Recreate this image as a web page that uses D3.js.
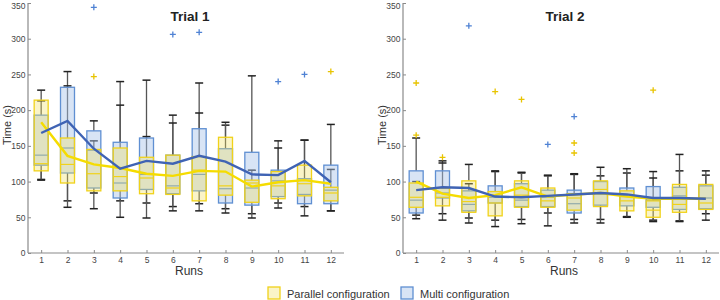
<!DOCTYPE html>
<html>
<head>
<meta charset="utf-8">
<script src="https://cdn.jsdelivr.net/npm/d3@7"></script>
<style>
  body { margin: 0; background: #fff; }
  svg { font-family: "Liberation Sans", Arial, sans-serif; }
</style>
</head>
<body>
<svg id="chart" width="720" height="300"></svg>
<script>
const runs = [1, 2, 3, 4, 5, 6, 7, 8, 9, 10, 11, 12];
const yTicks = [0, 50, 100, 150, 200, 250, 300, 350];

// Trial 1 - Parallel configuration
const t1ParQ1  = [115, 98, 87, 87, 83, 82, 73, 81, 71, 76, 80, 73];
const t1ParMed = [125, 124, 111, 107, 105, 91, 116, 94, 98, 94, 97, 84];
const t1ParQ3  = [214, 161, 145, 147, 134, 137, 135, 162, 102, 114, 123, 92];
const t1ParLo  = [102, 64, 62, 50, 49, 59, 59, 56, 49, 63, 52, 59];
const t1ParHi  = [228, 234, 157, 207, 163, 182, 196, 183, 116, 147, 158, 117];
const t1ParOut = [[3, 247], [12, 254]];
const t1ParMean = [183, 136, 124, 119, 111, 108, 115, 114, 93, 99, 102, 97];

// Trial 1 - Multi configuration
const t1MulQ1  = [123, 112, 91, 77, 89, 83, 87, 70, 67, 79, 69, 69];
const t1MulMed = [137, 147, 144, 98, 110, 94, 110, 90, 91, 101, 82, 88];
const t1MulQ3  = [193, 232, 171, 155, 161, 137, 174, 146, 141, 116, 104, 123];
const t1MulLo  = [103, 73, 84, 73, 70, 65, 69, 62, 55, 70, 65, 59];
const t1MulHi  = [213, 254, 185, 240, 242, 193, 238, 179, 248, 157, 158, 180];
const t1MulOut = [[3, 344], [6, 306], [7, 309], [10, 240], [11, 250]];
const t1MulMean = [168, 185, 146, 118, 129, 125, 136, 128, 110, 109, 129, 99];

// Trial 2 - Parallel configuration
const t2ParQ1  = [64, 66, 57, 52, 64, 64, 60, 65, 59, 50, 57, 61];
const t2ParMed = [78, 78, 72, 70, 81, 73, 77, 89, 73, 60, 68, 70];
const t2ParQ3  = [98, 91, 101, 86, 101, 91, 83, 101, 87, 73, 96, 96];
const t2ParLo  = [48, 46, 42, 37, 41, 38, 42, 42, 50, 44, 44, 46];
const t2ParHi  = [100, 126, 124, 115, 113, 109, 111, 120, 118, 105, 138, 115];
const t2ParOut = [[1, 165], [1, 238], [2, 134], [4, 226], [5, 215], [7, 140], [7, 154], [10, 228]];
const t2ParMean = [100, 83, 77, 81, 92, 79, 82, 84, 79, 76, 76, 76];

// Trial 2 - Multi configuration
const t2MulQ1  = [56, 77, 59, 70, 65, 65, 56, 67, 66, 64, 61, 62];
const t2MulMed = [74, 84, 68, 78, 74, 78, 69, 83, 79, 74, 80, 77];
const t2MulQ3  = [115, 115, 87, 94, 97, 88, 88, 100, 91, 93, 92, 94];
const t2MulLo  = [53, 55, 49, 46, 47, 56, 47, 47, 51, 46, 45, 55];
const t2MulHi  = [161, 129, 97, 114, 112, 108, 110, 108, 112, 114, 115, 109];
const t2MulOut = [[3, 318], [6, 152], [7, 191]];
const t2MulMean = [88, 92, 91, 79, 78, 80, 82, 84, 82, 77, 77, 76];

const colors = {
  par: { fill: "#f0e060", fillOpacity: 0.35, stroke: "#f0d21a", line: "#f5dc00", out: "#e8c400" },
  mul: { fill: "#a8c4e8", fillOpacity: 0.45, stroke: "#5f8fd2", line: "#3f63b4", out: "#4f82d4" }
};

const svg = d3.select("#chart");

function series(q1, med, q3, lo, hi, out, mean) {
  return {
    boxes: runs.map((r, i) => ({ run: r, q1: q1[i], med: med[i], q3: q3[i], lo: lo[i], hi: hi[i] })),
    out: out.map(o => ({ run: o[0], v: o[1] })),
    mean: runs.map((r, i) => ({ run: r, v: mean[i] }))
  };
}

const panels = [
  { title: "Trial 1", left: 28, right: 344,
    par: series(t1ParQ1, t1ParMed, t1ParQ3, t1ParLo, t1ParHi, t1ParOut, t1ParMean),
    mul: series(t1MulQ1, t1MulMed, t1MulQ3, t1MulLo, t1MulHi, t1MulOut, t1MulMean) },
  { title: "Trial 2", left: 403, right: 719,
    par: series(t2ParQ1, t2ParMed, t2ParQ3, t2ParLo, t2ParHi, t2ParOut, t2ParMean),
    mul: series(t2MulQ1, t2MulMed, t2MulQ3, t2MulLo, t2MulHi, t2MulOut, t2MulMean) }
];

const plotTop = 3, plotBottom = 253;

panels.forEach(p => {
  const x = d3.scaleLinear().domain([0.5, 12.5]).range([p.left, p.right]);
  const y = d3.scaleLinear().domain([0, 350]).range([plotBottom, plotTop]);
  const g = svg.append("g");
  const boxW = 14, capW = 8;

  // axes (MATLAB-like inward ticks)
  const yAxis = d3.axisLeft(y).tickValues(yTicks).tickSize(-3).tickPadding(2.5);
  const gy = g.append("g").attr("transform", `translate(${p.left},0)`).call(yAxis);
  const xAxis = d3.axisBottom(x).tickValues(runs).tickSize(-3).tickPadding(4);
  const gx = g.append("g").attr("transform", `translate(0,${plotBottom})`).call(xAxis);
  [gy, gx].forEach(a => {
    a.select(".domain").attr("stroke", "#8a8a8a").attr("stroke-width", 1.2);
    a.selectAll(".tick line").attr("stroke", "#8a8a8a");
    a.selectAll(".tick text").attr("fill", "#444").style("font-size", "8.5px");
  });
  gy.select(".domain").attr("d", `M0,${plotTop}V${plotBottom}`);
  gx.select(".domain").attr("d", `M${p.left},0H${p.right}`);
  // keep the top label inside the window
  gy.selectAll(".tick text").filter(d => d === 350).attr("dy", "0.62em");

  // whiskers
  ["mul", "par"].forEach(k => {
    const wg = g.append("g");
    p[k].boxes.forEach(d => {
      const cx = x(d.run);
      wg.append("line").attr("x1", cx).attr("x2", cx).attr("y1", y(d.q3)).attr("y2", y(d.hi))
        .attr("stroke", "#555").attr("stroke-width", 1.3);
      wg.append("line").attr("x1", cx).attr("x2", cx).attr("y1", y(d.q1)).attr("y2", y(d.lo))
        .attr("stroke", "#555").attr("stroke-width", 1.3);
      [d.hi, d.lo].forEach(v => {
        wg.append("line").attr("x1", cx - capW / 2).attr("x2", cx + capW / 2).attr("y1", y(v)).attr("y2", y(v))
          .attr("stroke", "#222").attr("stroke-width", 1.5);
      });
    });
  });

  // boxes
  ["mul", "par"].forEach(k => {
    const c = colors[k];
    const bg = g.append("g");
    bg.selectAll("rect").data(p[k].boxes).join("rect")
      .attr("x", d => x(d.run) - boxW / 2)
      .attr("width", boxW)
      .attr("y", d => y(d.q3))
      .attr("height", d => y(d.q1) - y(d.q3))
      .attr("fill", c.fill).attr("fill-opacity", c.fillOpacity)
      .attr("stroke", c.stroke).attr("stroke-width", 1.3);
    bg.selectAll("line.med").data(p[k].boxes).join("line").attr("class", "med")
      .attr("x1", d => x(d.run) - boxW / 2).attr("x2", d => x(d.run) + boxW / 2)
      .attr("y1", d => y(d.med)).attr("y2", d => y(d.med))
      .attr("stroke", c.stroke).attr("stroke-width", 1.2);
  });

  // mean lines
  ["par", "mul"].forEach(k => {
    const line = d3.line().x(d => x(d.run)).y(d => y(d.v));
    g.append("path").datum(p[k].mean).attr("d", line)
      .attr("fill", "none").attr("stroke", colors[k].line).attr("stroke-width", 2.4);
  });

  // outliers
  ["par", "mul"].forEach(k => {
    const og = g.append("g");
    p[k].out.forEach(o => {
      const cx = x(o.run), cy = y(o.v);
      og.append("path").attr("d", `M${cx - 3},${cy}H${cx + 3}M${cx},${cy - 3}V${cy + 3}`)
        .attr("stroke", colors[k].out).attr("stroke-width", 1.3);
    });
  });

  const mid = (p.left + p.right) / 2;
  g.append("text").attr("x", mid + 4).attr("y", 21).attr("text-anchor", "middle")
    .style("font-size", "13.5px").style("font-weight", "bold").attr("fill", "#222").text(p.title);
  g.append("text").attr("x", mid + 3).attr("y", 275).attr("text-anchor", "middle")
    .style("font-size", "12px").attr("fill", "#333").text("Runs");
  g.append("text").attr("transform", `translate(${p.left - 17},125) rotate(-90)`).attr("text-anchor", "middle")
    .style("font-size", "11px").attr("fill", "#333").text("Time (s)");
});

// legend
const legendItems = [
  { label: "Parallel configuration", key: "par", x: 268 },
  { label: "Multi configuration", key: "mul", x: 401 }
];
legendItems.forEach(l => {
  const c = colors[l.key];
  svg.append("rect").attr("x", l.x).attr("y", 287).attr("width", 12).attr("height", 12)
    .attr("fill", c.fill).attr("fill-opacity", c.fillOpacity).attr("stroke", c.stroke).attr("stroke-width", 1.3);
  svg.append("text").attr("x", l.x + 19).attr("y", 297.5).style("font-size", "11px").attr("fill", "#333").text(l.label);
});
</script>
</body>
</html>
